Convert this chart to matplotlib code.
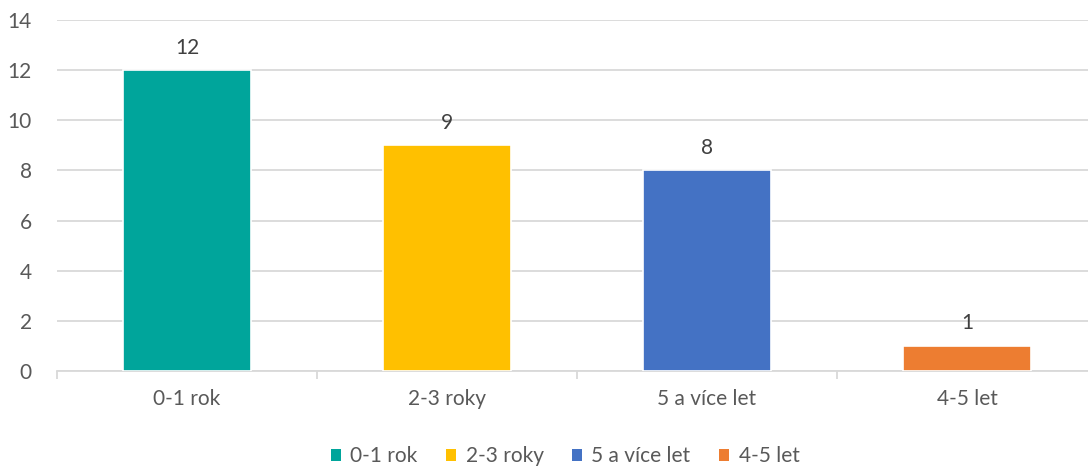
import matplotlib.pyplot as plt
from matplotlib.patches import Patch

categories = ["0-1 rok", "2-3 roky", "5 a více let", "4-5 let"]
values = [12, 9, 8, 1]
colors = ["#00A59B", "#FFC000", "#4472C4", "#ED7D31"]
y_ticks = [0, 2, 4, 6, 8, 10, 12, 14]

plt.rcParams["font.family"] = ["Lato", "DejaVu Sans"]
text_color = "#595959"
grid_color = "#D9D9D9"
fs = 15

fig = plt.figure(figsize=(10.88, 4.66), dpi=100)
ax = fig.add_axes([57 / 1088, 95 / 466, 1040 / 1088, 351 / 466])

x = list(range(len(categories)))
bars = ax.bar(x, values, width=0.495, color=colors, edgecolor="white",
              linewidth=1.2, zorder=3)

for xi, v in zip(x, values):
    ax.annotate(str(v), (xi, v), xytext=(0, 9), textcoords="offset points",
                ha="center", va="bottom", fontsize=fs, color="#404040")

ax.set_xlim(-0.5, len(categories) - 0.5)
ax.set_ylim(0, 14)
ax.set_yticks(y_ticks)
ax.yaxis.grid(True, color=grid_color, linewidth=1.3, zorder=0)
ax.set_axisbelow(True)

for s in ["top", "right", "left"]:
    ax.spines[s].set_visible(False)
ax.spines["bottom"].set_color(grid_color)
ax.spines["bottom"].set_linewidth(1.3)

ax.tick_params(axis="y", length=0, labelsize=fs, labelcolor=text_color, pad=18)
ax.set_xticks(x)
ax.set_xticklabels(categories)
ax.tick_params(axis="x", which="major", length=0, labelsize=fs,
               labelcolor=text_color, pad=13)
ax.set_xticks([i - 0.5 for i in range(len(categories) + 1)], minor=True)
ax.tick_params(axis="x", which="minor", length=6, width=1.3, color=grid_color)

handles = [Patch(facecolor=c, edgecolor="none") for c in colors]
fig.legend(handles, categories, loc="center",
           bbox_to_anchor=(565 / 1088, 10 / 466),
           ncol=4, frameon=False, fontsize=fs, labelcolor=text_color,
           handlelength=0.5, handleheight=0.5, handletextpad=0.45,
           columnspacing=1.35)

fig.savefig("out.png", dpi=100)
